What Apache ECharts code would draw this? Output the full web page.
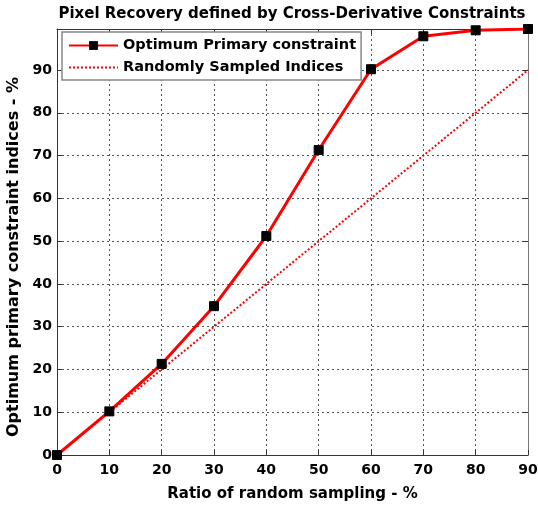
<!DOCTYPE html>
<html>
<head>
<meta charset="utf-8">
<style>
  html, body { margin: 0; padding: 0; background: #fff; }
  #chart { width: 538px; height: 506px; }
</style>
<script src="https://cdn.jsdelivr.net/npm/echarts@6/dist/echarts.min.js"></script>
</head>
<body>
<div id="chart"></div>
<script>
// Sampling ratio (%) on the horizontal axis
const samplingRatio = [0, 10, 20, 30, 40, 50, 60, 70, 80, 90];
// Recovered share of optimum primary constraint indices (%)
const optimumPrimary = [0, 10.2, 21.3, 34.8, 51.2, 71.3, 90.2, 97.9, 99.3, 99.6];
// Reference: indices chosen at random recover exactly the sampled share
const randomSampled = [0, 10, 20, 30, 40, 50, 60, 70, 80, 90];
const yTop = 99.6;

const FONT = 'DejaVu Sans, Verdana, sans-serif';
const axisColor = '#333';
const gridLine = { show: true, lineStyle: { color: '#555', type: [2, 3], width: 1 } };

const chart = echarts.init(document.getElementById('chart'), null, { renderer: 'canvas' });

chart.setOption({
  animation: false,
  backgroundColor: '#fff',
  title: {
    text: 'Pixel Recovery defined by Cross-Derivative Constraints',
    left: 287, top: 2, textAlign: 'center',
    textStyle: { fontFamily: FONT, fontWeight: 'bold', fontSize: 15, color: '#000' }
  },
  legend: {
    left: 62, top: 32, orient: 'vertical',
    itemWidth: 49, itemHeight: 11, itemGap: 7,
    padding: [6, 5, 5, 6],
    borderColor: '#888', borderWidth: 1.5, backgroundColor: '#fff',
    textStyle: { fontFamily: FONT, fontWeight: 'bold', fontSize: 14.5, color: '#000' },
    data: [
      { name: 'Optimum Primary constraint' },
      { name: 'Randomly Sampled Indices', itemStyle: { opacity: 0 } }
    ]
  },
  grid: { left: 57, right: 10, top: 29, bottom: 51, containLabel: false, outerBoundsMode: 'none' },
  xAxis: [{
    type: 'value', min: 0, max: 90, interval: 10,
    name: 'Ratio of random sampling - %', nameLocation: 'middle', nameGap: 32,
    nameTextStyle: { fontFamily: FONT, fontWeight: 'bold', fontSize: 15, color: '#000' },
    axisLine: { show: true, onZero: false, lineStyle: { color: axisColor, width: 1 } },
    axisTick: { show: true, inside: true, length: 5, lineStyle: { color: axisColor } },
    axisLabel: { margin: 8, fontFamily: FONT, fontWeight: 'bold', fontSize: 14, color: '#000' },
    splitLine: gridLine
  }, {
    type: 'value', position: 'top', min: 0, max: 90, interval: 10,
    axisLine: { show: true, onZero: false, lineStyle: { color: axisColor, width: 1 } },
    axisTick: { show: true, inside: true, length: 5, lineStyle: { color: axisColor } },
    axisLabel: { show: false }, splitLine: { show: false }
  }],
  yAxis: [{
    type: 'value', min: 0, max: yTop, interval: 10,
    name: 'Optimum primary constraint indices - %', nameLocation: 'middle', nameGap: 26,
    nameTextStyle: {
      fontFamily: FONT, fontWeight: 'bold', fontSize: 16, color: '#000',
      padding: [0, 30, 0, 0]
    },
    axisLine: { show: true, onZero: false, lineStyle: { color: axisColor, width: 1 } },
    axisTick: { show: true, inside: true, length: 5, lineStyle: { color: axisColor } },
    axisLabel: {
      margin: 5, showMaxLabel: false, fontFamily: FONT, fontWeight: 'bold', fontSize: 14, color: '#000',
      formatter: v => (v % 10 === 0 ? String(v) : '')
    },
    splitLine: gridLine
  }, {
    type: 'value', position: 'right', min: 0, max: yTop, interval: 10,
    axisLine: { show: true, onZero: false, lineStyle: { color: '#777', width: 1 } },
    axisTick: { show: true, inside: true, length: 5, lineStyle: { color: axisColor } },
    axisLabel: { show: false }, splitLine: { show: false }
  }],
  series: [{
    name: 'Randomly Sampled Indices',
    type: 'line',
    data: samplingRatio.map((x, i) => [x, randomSampled[i]]),
    symbol: 'none',
    lineStyle: { color: '#ff0000', width: 2, type: [2, 2] },
    itemStyle: { color: '#ff0000' },
    z: 2
  }, {
    name: 'Optimum Primary constraint',
    type: 'line',
    data: samplingRatio.map((x, i) => [x, optimumPrimary[i]]),
    symbol: 'rect', symbolSize: 9,
    lineStyle: { color: '#ff0000', width: 3 },
    itemStyle: { color: '#000', borderColor: '#000' },
    z: 3
  }]
});
</script>
</body>
</html>
